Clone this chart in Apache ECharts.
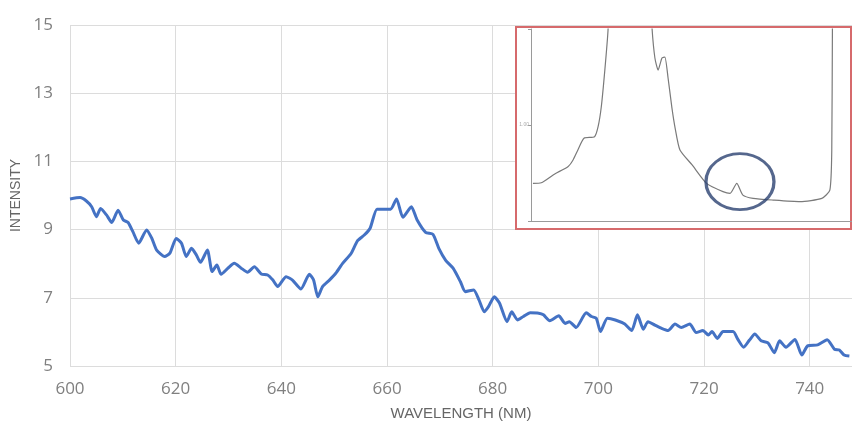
<!DOCTYPE html>
<html>
<head>
<meta charset="utf-8">
<script src="https://cdn.jsdelivr.net/npm/echarts@6/dist/echarts.min.js"></script>
<style>html,body{margin:0;padding:0;background:#fff}#c{width:852px;height:425px}</style>
</head>
<body>
<div id="c"></div>
<script>
// Main spectrum (wavelength in nm, intensity)
const wavelength = [600.0,601.9,603.1,604.1,605.0,605.8,606.9,607.9,609.1,610.1,611.0,611.9,613.0,614.5,615.5,616.4,617.9,618.9,620.1,621.1,622.0,623.0,623.9,624.7,626.0,626.9,627.8,628.6,629.9,631.1,632.4,633.6,634.9,636.2,637.4,638.4,639.3,640.9,642.1,643.7,645.3,646.1,646.9,647.8,649.1,650.3,651.6,653.2,654.4,655.7,656.8,658.1,659.4,660.7,661.8,663.0,664.6,665.7,667.3,668.7,669.8,671.1,672.5,673.9,674.8,676.4,677.4,678.4,679.2,680.3,681.3,682.7,683.6,684.7,685.8,687.1,688.7,689.6,690.8,692.5,693.7,694.5,695.8,697.7,698.7,699.6,700.4,701.7,703.2,705.0,706.3,707.4,708.5,709.4,710.7,711.9,713.2,714.5,715.7,717.3,718.5,719.8,720.8,721.5,722.5,723.6,725.5,726.4,727.5,728.6,729.6,730.8,732.1,733.3,734.3,735.5,737.2,738.5,739.6,741.5,743.3,744.7,745.6,746.5,747.5];
const intensity = [9.90,9.94,9.84,9.67,9.38,9.62,9.43,9.21,9.57,9.28,9.21,8.94,8.60,8.99,8.74,8.40,8.21,8.31,8.74,8.60,8.21,8.45,8.26,8.04,8.40,7.77,7.96,7.69,7.87,8.01,7.87,7.75,7.91,7.70,7.67,7.52,7.33,7.62,7.52,7.26,7.69,7.52,7.03,7.33,7.52,7.72,8.01,8.30,8.67,8.84,9.04,9.60,9.60,9.60,9.90,9.36,9.67,9.28,8.92,8.86,8.45,8.10,7.87,7.47,7.18,7.23,6.94,6.59,6.74,7.03,6.84,6.30,6.59,6.35,6.45,6.56,6.55,6.50,6.33,6.47,6.25,6.30,6.13,6.56,6.45,6.40,6.01,6.40,6.35,6.23,6.04,6.50,6.08,6.30,6.20,6.11,6.04,6.23,6.13,6.23,5.98,6.04,5.91,6.01,5.81,6.01,6.01,5.78,5.55,5.76,5.94,5.74,5.68,5.39,5.74,5.55,5.78,5.32,5.59,5.62,5.77,5.49,5.47,5.32,5.29];

// Inset spectrum (relative units of the inset picture)
const insetX = [0.6,3.2,7.4,11.5,13.1,14.6,16.5,19.8,20.9,21.9,23.0,24.0,25.0,28.0,33.0,36.0,37.7,38.6,39.6,40.8,41.7,42.7,43.9,44.9,46.4,50.2,54.7,59.8,62.0,64.1,66.0,69.2,75.4,83.8,90.6,93.1,93.7,93.9,94.3,100.0];
const insetY = [19.6,19.9,24.5,28.3,31.8,37.0,43.1,43.9,49.1,59.5,78.6,99.5,140,190,200,150,100.5,84.9,78.6,84.9,85.4,74.5,58.9,48.4,37.0,29.2,19.6,15.3,14.4,19.6,13.5,11.8,10.9,10.1,11.8,16.1,37.0,100.5,150,160];
const insetMarkX = [65.1];
const insetMarkY = [20.5];
const insetYTickLabels = ['', '1.00', ''];

const mainData = wavelength.map((w, i) => [w, intensity[i]]);
const insetData = insetX.map((x, i) => [x, insetY[i]]);
const markData = insetMarkX.map((x, i) => [x, insetMarkY[i]]);

const gray = '#808080';
const chart = echarts.init(document.getElementById('c'), null, {renderer: 'canvas'});
chart.setOption({
  animation: false,
  backgroundColor: '#ffffff',
  grid: [
    {left: 70, right: 0, top: 25, bottom: 59, outerBoundsMode: 'none', containLabel: false},
    {left: 516, right: 1, top: 27, bottom: 196, show: true, backgroundColor: '#ffffff',
     borderColor: '#d66a6c', borderWidth: 2, z: 3, outerBoundsMode: 'none', containLabel: false},
    {left: 531, right: 0, top: 29, bottom: 204, z: 4, outerBoundsMode: 'none', containLabel: false}
  ],
  xAxis: [
    {type: 'value', gridIndex: 0, min: 600, max: 748, interval: 20,
     name: 'WAVELENGTH (NM)', nameLocation: 'middle', nameGap: 40,
     nameTextStyle: {color: '#666', fontSize: 15, fontFamily: 'Liberation Sans'},
     axisLine: {show: false}, axisTick: {show: false},
     axisLabel: {color: gray, fontSize: 17, fontFamily: 'Open Sans', margin: 15, showMaxLabel: false},
     splitLine: {show: true, lineStyle: {color: '#dcdcdc', width: 1}}},
    {type: 'value', gridIndex: 2, min: 0, max: 100, z: 5,
     axisLine: {show: true, lineStyle: {color: '#9a9a9a', width: 1}},
     axisTick: {show: false}, axisLabel: {show: false}, splitLine: {show: false}}
  ],
  yAxis: [
    {type: 'value', gridIndex: 0, min: 5, max: 15, interval: 2,
     name: 'INTENSITY', nameLocation: 'middle', nameGap: 45, nameRotate: 90,
     nameTextStyle: {color: '#666', fontSize: 14, fontFamily: 'Liberation Sans'},
     axisLine: {show: false}, axisTick: {show: false},
     axisLabel: {color: gray, fontSize: 17, fontFamily: 'Open Sans', margin: 17},
     splitLine: {show: true, lineStyle: {color: '#dcdcdc', width: 1}}},
    {type: 'value', gridIndex: 2, min: 0, max: 100, interval: 50, z: 5,
     axisLine: {show: true, lineStyle: {color: '#9a9a9a', width: 1}},
     axisTick: {show: true, length: 3, lineStyle: {color: '#9a9a9a'}},
     axisLabel: {show: true, fontSize: 5, color: '#aaa', margin: 2,
       formatter: (v) => insetYTickLabels[Math.round(v / 50)] || ''},
     splitLine: {show: false}}
  ],
  series: [
    {type: 'line', xAxisIndex: 0, yAxisIndex: 0, data: mainData, smooth: 0.2,
     showSymbol: false, lineStyle: {color: '#4472c4', width: 3}, z: 2},
    {type: 'line', xAxisIndex: 1, yAxisIndex: 1, data: insetData, smooth: 0.2, clip: true,
     showSymbol: false, lineStyle: {color: '#7a7a7a', width: 1.2}, z: 6},
    {type: 'scatter', xAxisIndex: 1, yAxisIndex: 1, data: markData, symbol: 'circle',
     symbolSize: [68, 56], clip: false,
     itemStyle: {color: 'rgba(0,0,0,0)', borderColor: '#2b4170', borderWidth: 3}, z: 7}
  ]
});
</script>
</body>
</html>
